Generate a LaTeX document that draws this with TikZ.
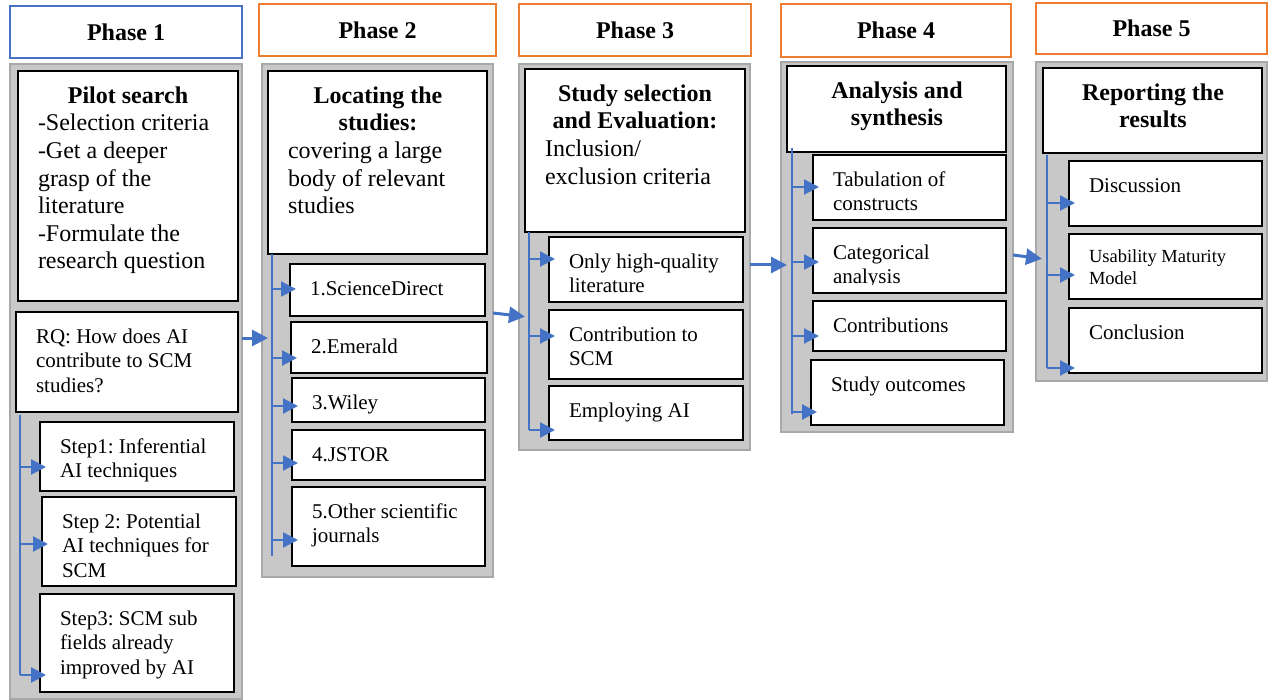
\documentclass[tikz,border=0pt]{standalone}
\usepackage{fontspec}
\setmainfont{Liberation Serif}
\usetikzlibrary{arrows.meta}
\setlength{\parindent}{0pt}
\frenchspacing

\begin{document}
\begin{tikzpicture}[x = 1pt, y = -1pt]
  \useasboundingbox (0,0) rectangle (1268,700);


  % COLORS
  \definecolor{headblue}{RGB}{68,114,196}
  \definecolor{headorange}{RGB}{237,125,49}
  \definecolor{panelfill}{RGB}{200,200,200}
  \definecolor{panelline}{RGB}{168,168,168}
  \definecolor{arrowblue}{RGB}{68,114,196}


  % STYLES
  \tikzstyle{phasehead} = [draw=headorange, line width=2.2pt, fill=white, anchor=north west, inner sep=0pt, outer sep=0pt, font=\fontsize{24}{27.6}\selectfont\bfseries]
  \tikzstyle{panel} = [draw=panelline, fill=panelfill, line width=1.5pt, anchor=north west, inner sep=0pt, outer sep=0pt]
  \tikzstyle{wbox} = [draw=black, fill=white, line width=1.5pt, anchor=north west, inner sep=0pt, outer sep=0pt]
  \tikzstyle{bigtext} = [anchor=north west, inner xsep=20pt, inner ysep=13pt, outer sep=0pt, text width=180pt, align=flush left, font=\fontsize{24}{27.6}\selectfont, execute at begin node=\strut]
  \tikzstyle{stext} = [bigtext, inner ysep=14pt, font=\fontsize{21}{24.5}\selectfont]
  \tikzstyle{vline} = [draw=arrowblue, line width=1.3pt]
  \tikzstyle{tick} = [draw=arrowblue, line width=2.2pt, -{Triangle[length=15pt,width=15pt]}, shorten >=-6pt]
  \tikzstyle{bigarr} = [draw=arrowblue, line width=3pt, -{Triangle[length=16pt,width=16pt]}, shorten >=-6pt]


  % PANELS
  \node[panel, minimum width=232, minimum height=635] (p1) at (10,64) {};
  \node[panel, minimum width=231, minimum height=513] (p2) at (262,64) {};
  \node[panel, minimum width=231, minimum height=386] (p3) at (519,64) {};
  \node[panel, minimum width=232, minimum height=370] (p4) at (781,62) {};
  \node[panel, minimum width=231, minimum height=319] (p5) at (1036,62) {};


  % PHASE HEADERS
  \node[phasehead, draw=headblue, minimum width=232, minimum height=52] (h1) at (10,6) {Phase 1};
  \node[phasehead, minimum width=237, minimum height=52] (h2) at (259,4) {Phase 2};
  \node[phasehead, minimum width=232, minimum height=52] (h3) at (519,4) {Phase 3};
  \node[phasehead, minimum width=230, minimum height=53] (h4) at (781,4) {Phase 4};
  \node[phasehead, minimum width=231, minimum height=51] (h5) at (1036,3) {Phase 5};


  % PHASE 1
  \node[wbox, minimum width=220, minimum height=230] (pilot) at (18,71) {};
  \node[wbox, minimum width=222, minimum height=100] (rq) at (16,312) {};
  \node[wbox, minimum width=194, minimum height=69] (s1) at (40,422) {};
  \node[wbox, minimum width=194, minimum height=89] (s2) at (42,497) {};
  \node[wbox, minimum width=194, minimum height=98] (s3) at (40,594) {};

  \node[bigtext] (pilot_t) at (pilot.north west) {{\centering\bfseries Pilot search\par}-Selection criteria\\-Get a deeper\\grasp of the\\literature\\-Formulate the\\research question};
  \node[stext] (rq_t) at (rq.north west) {RQ: How does AI\\contribute to SCM\\studies?};
  \node[stext] (s1_t) at (s1.north west) {Step1: Inferential\\AI techniques};
  \node[stext] (s2_t) at (s2.north west) {Step 2: Potential\\AI techniques for\\SCM};
  \node[stext] (s3_t) at (s3.north west) {Step3: SCM sub\\fields already\\improved by AI};


  % PHASE 2
  \node[wbox, minimum width=219, minimum height=183] (loc) at (268,71) {};
  \node[wbox, minimum width=195, minimum height=52] (d1) at (290,264) {};
  \node[wbox, minimum width=196, minimum height=51] (d2) at (291,322) {};
  \node[wbox, minimum width=193, minimum height=44] (d3) at (292,378) {};
  \node[wbox, minimum width=193, minimum height=50] (d4) at (292,430) {};
  \node[wbox, minimum width=193, minimum height=79] (d5) at (292,487) {};

  \node[bigtext] (loc_t) at (loc.north west) {{\centering\bfseries Locating the\\studies:\par}covering a large\\body of relevant\\studies};
  \node[stext] (d1_t) at (d1.north west) {1.ScienceDirect};
  \node[stext] (d2_t) at (d2.north west) {2.Emerald};
  \node[stext] (d3_t) at (d3.north west) {3.Wiley};
  \node[stext] (d4_t) at (d4.north west) {4.JSTOR};
  \node[stext] (d5_t) at (d5.north west) {5.Other scientific\\journals};


  % PHASE 3
  \node[wbox, minimum width=220, minimum height=163] (sel) at (525,69) {};
  \node[wbox, minimum width=194, minimum height=65] (e1) at (549,237) {};
  \node[wbox, minimum width=194, minimum height=69] (e2) at (549,310) {};
  \node[wbox, minimum width=194, minimum height=54] (e3) at (549,386) {};

  \node[bigtext] (sel_t) at (sel.north west) {{\centering\bfseries Study selection\\and Evaluation:\par}Inclusion/\\exclusion criteria};
  \node[stext] (e1_t) at (e1.north west) {Only high-quality\\literature};
  \node[stext] (e2_t) at (e2.north west) {Contribution to\\SCM};
  \node[stext] (e3_t) at (e3.north west) {Employing AI};


  % PHASE 4
  \node[wbox, minimum width=219, minimum height=86] (ana) at (787,66) {};
  \node[wbox, minimum width=193, minimum height=65] (c1) at (813,155) {};
  \node[wbox, minimum width=193, minimum height=65] (c2) at (813,228) {};
  \node[wbox, minimum width=193, minimum height=50] (c3) at (813,301) {};
  \node[wbox, minimum width=193, minimum height=65] (c4) at (811,360) {};

  \node[bigtext, align=flush center] (ana_t) at (ana.north west) {\bfseries Analysis and\\synthesis};
  \node[stext] (c1_t) at (c1.north west) {Tabulation of\\constructs};
  \begin{scope}
    \clip (813,228) rectangle (1006,285);
    \node[stext] (c2_t) at (c2.north west) {Categorical\\analysis};
  \end{scope}
  \node[stext] (c3_t) at (c3.north west) {Contributions};
  \node[stext] (c4_t) at (c4.north west) {Study outcomes};


  % PHASE 5
  \node[wbox, minimum width=219, minimum height=85] (rep) at (1043,68) {};
  \node[wbox, minimum width=193, minimum height=65] (r1) at (1069,161) {};
  \node[wbox, minimum width=193, minimum height=65] (r2) at (1069,234) {};
  \node[wbox, minimum width=193, minimum height=65] (r3) at (1069,308) {};

  \node[bigtext, align=flush center] (rep_t) at (rep.north west) {\bfseries Reporting the\\results};
  \node[stext] (r1_t) at (r1.north west) {Discussion};
  \node[stext, font=\fontsize{18.5}{21.3}\selectfont] (r2_t) at (r2.north west) {Usability Maturity\\Model};
  \node[stext] (r3_t) at (r3.north west) {Conclusion};


  % DEF POINTS
  \coordinate (l1) at (20,415);
  \coordinate (l1_end) at (20,675);
  \coordinate (l2) at (272,254);
  \coordinate (l2_end) at (272,556);
  \coordinate (l3) at (529,232);
  \coordinate (l3_end) at (529,430);
  \coordinate (l4) at (792,148);
  \coordinate (l4_end) at (792,414);
  \coordinate (l5) at (1047,155);
  \coordinate (l5_end) at (1047,368);


  % BRANCH LINES
  \draw[vline] (l1) -- (l1_end);
  \draw[vline] (l2) -- (l2_end);
  \draw[vline] (l3) -- (l3_end);
  \draw[vline] (l4) -- (l4_end);
  \draw[vline] (l5) -- (l5_end);


  % BRANCH ARROWS
  \draw[tick] (l1 |- 0,467) -- (s1.west |- 0,467);
  \draw[tick] (l1 |- 0,544) -- (s2.west |- 0,544);
  \draw[tick] (l1 |- 0,675) -- (s3.west |- 0,675);

  \draw[tick] (l2 |- 0,289) -- (d1.west |- 0,289);
  \draw[tick] (l2 |- 0,358) -- (d2.west |- 0,358);
  \draw[tick] (l2 |- 0,406) -- (d3.west |- 0,406);
  \draw[tick] (l2 |- 0,463) -- (d4.west |- 0,463);
  \draw[tick] (l2 |- 0,540) -- (d5.west |- 0,540);

  \draw[tick] (l3 |- 0,259) -- (e1.west |- 0,259);
  \draw[tick] (l3 |- 0,336) -- (e2.west |- 0,336);
  \draw[tick] (l3 |- 0,430) -- (e3.west |- 0,430);

  \draw[tick] (l4 |- 0,187) -- (c1.west |- 0,187);
  \draw[tick] (l4 |- 0,262) -- (c2.west |- 0,262);
  \draw[tick] (l4 |- 0,336) -- (c3.west |- 0,336);
  \draw[tick] (l4 |- 0,412) -- (c4.west |- 0,412);

  \draw[tick] (l5 |- 0,203) -- (r1.west |- 0,203);
  \draw[tick] (l5 |- 0,275) -- (r2.west |- 0,275);
  \draw[tick] (l5 |- 0,368) -- (r3.west |- 0,368);


  % PHASE ARROWS
  \draw[bigarr] (p1.east |- 0,338) -- (p2.west |- 0,338);
  \draw[bigarr] (p2.east |- 0,313) -- (p3.west |- 0,316);
  \draw[bigarr] (p3.east |- 0,265) -- (p4.west |- 0,265);
  \draw[bigarr] (p4.east |- 0,255) -- (p5.west |- 0,258);

\end{tikzpicture}
\end{document}
